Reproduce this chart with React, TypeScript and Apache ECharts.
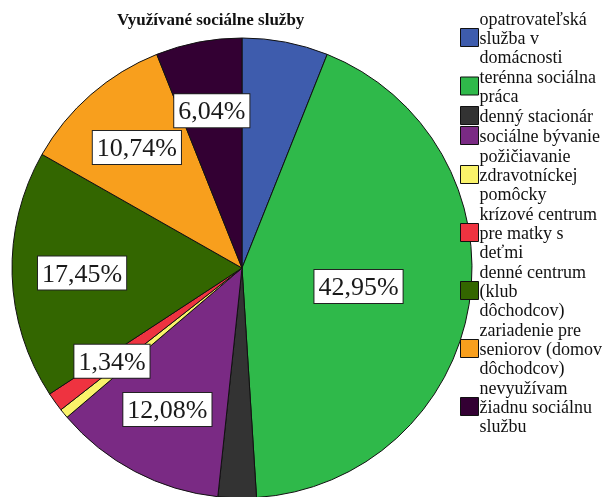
import React, { useEffect, useRef } from "react";
import * as echarts from "echarts";

const categories = [
  "opatrovateľská\nslužba v\ndomácnosti",
  "terénna sociálna\npráca",
  "denný stacionár",
  "sociálne bývanie",
  "požičiavanie\nzdravotníckej\npomôcky",
  "krízové centrum\npre matky s\ndeťmi",
  "denné centrum\n(klub\ndôchodcov)",
  "zariadenie pre\nseniorov (domov\ndôchodcov)",
  "nevyužívam\nžiadnu sociálnu\nslužbu",
];
const counts = [9, 64, 4, 18, 1, 2, 26, 16, 9];
const colors = ["#3e5cad", "#2fb94a", "#333333", "#7a2a84", "#faf36a", "#ee3340", "#336600", "#f89f1d", "#330033"];
// which slices carry a label: "inner" = near middle of radius, "outer" = further out
const labelMode = ["none", "inner", "none", "outer", "none", "outer", "outer", "outer", "outer"];
const titleText = "Využívané sociálne služby";

const fmt = (p: any) => p.percent.toFixed(2).replace(".", ",") + "%";

function labelBox() {
  return {
    show: true,
    position: "inside",
    formatter: fmt,
    fontFamily: "Liberation Serif",
    fontSize: 26,
    color: "#1a1a1a",
    backgroundColor: "#ffffff",
    borderColor: "#222",
    borderWidth: 1,
    padding: [4, 4, 3, 4],
  };
}

export default function App() {
  const ref = useRef<HTMLDivElement>(null);
  useEffect(() => {
    const chart = echarts.init(ref.current!, undefined, { renderer: "svg" });
    const mainData = categories.map((name, i) => ({
      name,
      value: counts[i],
      itemStyle: { color: colors[i] },
      label: labelMode[i] === "inner" ? labelBox() : { show: false },
    }));
    const overlayData = categories.map((name, i) => ({
      name: name + " ",
      value: counts[i],
      itemStyle: { color: "rgba(0,0,0,0)", borderWidth: 0 },
      label: labelMode[i] === "outer" ? labelBox() : { show: false },
    }));
    chart.setOption({
      animation: false,
      graphic: [
        {
          type: "text",
          left: 117,
          top: 11,
          style: {
            text: titleText,
            fontFamily: "Liberation Serif",
            fontWeight: "bold",
            fontSize: 17,
            fill: "#111",
          },
        },
      ],
      legend: {
        orient: "vertical",
        left: 455,
        top: 4,
        data: categories,
        itemWidth: 18,
        itemHeight: 18,
        itemGap: 1,
        icon: "rect",
        selectedMode: false,
        itemStyle: { borderColor: "#111", borderWidth: 1 },
        textStyle: {
          fontFamily: "Liberation Serif",
          fontSize: 18,
          lineHeight: 19,
          color: "#111",
          padding: [0, 0, 0, -4],
        },
      },
      series: [
        {
          type: "pie",
          center: [242, 268],
          radius: [0, 230],
          startAngle: 90,
          clockwise: true,
          silent: true,
          percentPrecision: 2,
          itemStyle: { borderColor: "#111", borderWidth: 1 },
          labelLine: { show: false },
          data: mainData,
        },
        {
          type: "pie",
          center: [242, 268],
          radius: [0, 314],
          startAngle: 90,
          clockwise: true,
          silent: true,
          percentPrecision: 2,
          labelLine: { show: false },
          data: overlayData,
        },
      ],
    });
    return () => chart.dispose();
  }, []);
  return <div ref={ref} style={{ position: "fixed", left: 0, top: 0, width: 606, height: 497 }} />;
}
